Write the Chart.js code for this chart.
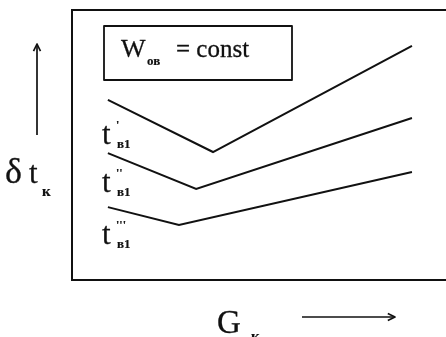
<!DOCTYPE html>
<html>
<head>
<meta charset="utf-8">
<script src="https://cdn.jsdelivr.net/npm/chart.js@4"></script>
<style>
  html, body { margin: 0; padding: 0; background: #fff; }
  canvas { display: block; }
</style>
</head>
<body>
<canvas id="chart" width="446" height="337"></canvas>
<script>
// G_k (flow) at start, break point and end of each curve
const gCurve1 = [0.96, 3.77, 9.09];
const gCurve2 = [0.96, 3.32, 9.09];
const gCurve3 = [0.96, 2.86, 9.09];
// delta t_k for each curve
const dtCurve1 = [6.67, 4.74, 8.67];
const dtCurve2 = [4.70, 3.37, 6.00];
const dtCurve3 = [2.70, 2.04, 4.00];

const ink = "#111";
const serif = "'Liberation Serif', 'DejaVu Serif', serif";

function toPoints(xs, ys) {
  return xs.map((x, i) => ({ x: x, y: ys[i] }));
}

// filled text with a thin outline so the glyphs read a little heavier
function text(ctx, str, x, y, font, weight) {
  ctx.font = font;
  ctx.lineWidth = weight;
  ctx.fillText(str, x, y);
  if (weight > 0) ctx.strokeText(str, x, y);
}

function arrow(ctx, x1, y1, x2, y2) {
  const a = Math.atan2(y2 - y1, x2 - x1);
  ctx.beginPath();
  ctx.moveTo(x1, y1);
  ctx.lineTo(x2, y2);
  ctx.stroke();
  ctx.beginPath();
  ctx.moveTo(x2 - 8 * Math.cos(a - 0.45), y2 - 8 * Math.sin(a - 0.45));
  ctx.lineTo(x2, y2);
  ctx.lineTo(x2 - 8 * Math.cos(a + 0.45), y2 - 8 * Math.sin(a + 0.45));
  ctx.stroke();
}

// labels, legend box and axis arrows
const annotations = {
  id: "annotations",
  afterDraw(chart) {
    const ctx = chart.ctx;
    ctx.save();
    ctx.strokeStyle = ink;
    ctx.fillStyle = ink;
    ctx.textBaseline = "alphabetic";
    ctx.lineJoin = "round";

    // legend box
    ctx.lineWidth = 1.8;
    ctx.strokeRect(104, 26, 188, 54);
    text(ctx, "W", 121, 57, "26px " + serif, 0.3);
    text(ctx, "ов", 147, 65, "bold 13px " + serif, 0.2);
    text(ctx, "= const", 176, 57, "25px " + serif, 0.3);

    // curve labels
    const labels = [
      { y: 144, mark: "'" },
      { y: 192, mark: "''" },
      { y: 244, mark: "'''" }
    ];
    labels.forEach(l => {
      text(ctx, "t", 102, l.y, "31px " + serif, 0.3);
      text(ctx, "в1", 117, l.y + 4, "bold 13px " + serif, 0.2);
      text(ctx, l.mark, 116, l.y - 15, "bold 12px " + serif, 0.2);
    });

    // y axis title
    text(ctx, "δ", 5, 183, "36px " + serif, 0.3);
    text(ctx, "t", 29, 183, "31px " + serif, 0.3);
    text(ctx, "к", 42, 196, "bold 15px " + serif, 0.2);

    // x axis title
    text(ctx, "G", 217, 333, "33px " + serif, 0.3);
    text(ctx, "к", 251, 341, "bold 15px " + serif, 0.2);

    // direction arrows
    ctx.lineWidth = 1.7;
    arrow(ctx, 37, 135, 37, 44);
    arrow(ctx, 302, 317, 395, 317);
    ctx.restore();
  }
};

const lineStyle = {
  borderColor: ink,
  borderWidth: 2,
  pointRadius: 0,
  showLine: true,
  fill: false,
  tension: 0
};

const hiddenAxis = {
  ticks: { display: false },
  grid: { display: false, drawTicks: false },
  border: { display: true, color: ink, width: 2 }
};

new Chart(document.getElementById("chart"), {
  type: "scatter",
  data: {
    datasets: [
      Object.assign({ label: "t'в1", data: toPoints(gCurve1, dtCurve1) }, lineStyle),
      Object.assign({ label: "t''в1", data: toPoints(gCurve2, dtCurve2) }, lineStyle),
      Object.assign({ label: "t'''в1", data: toPoints(gCurve3, dtCurve3) }, lineStyle)
    ]
  },
  options: {
    responsive: false,
    animation: false,
    devicePixelRatio: 1,
    layout: { padding: { left: 72, top: 10, right: 0, bottom: 57 } },
    plugins: {
      legend: { display: false },
      tooltip: { enabled: false }
    },
    scales: {
      x: Object.assign({ type: "linear", min: 0, max: 10, position: "bottom" }, hiddenAxis),
      xTop: Object.assign({ type: "linear", min: 0, max: 10, position: "top", axis: "x" }, hiddenAxis),
      y: Object.assign({ type: "linear", min: 0, max: 10, position: "left" }, hiddenAxis)
    }
  },
  plugins: [annotations]
});
</script>
</body>
</html>
